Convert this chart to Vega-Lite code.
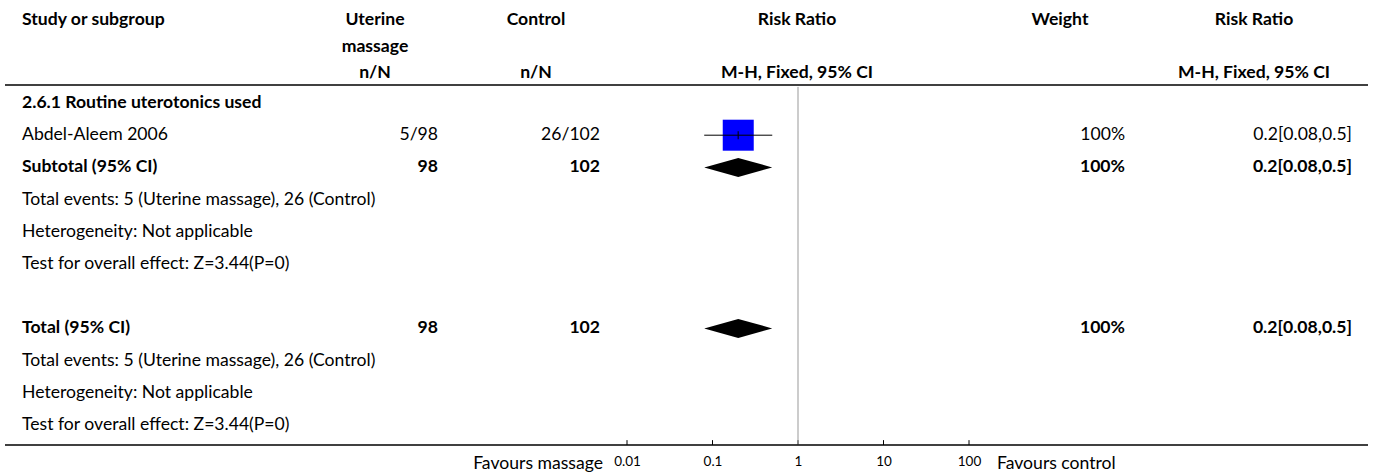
{
  "$schema": "https://vega.github.io/schema/vega-lite/v6.json",
  "width": 1373,
  "height": 475,
  "autosize": {"type": "none"},
  "padding": 0,
  "background": "white",
  "config": {
    "view": {"stroke": null},
    "font": "Lato",
    "text": {"font": "Lato", "fontSize": 17.6, "color": "#000000", "baseline": "middle"}
  },
  "datasets": {
    "header": [
      {"line": 0, "col": 0, "text": "Study or subgroup"},
      {"line": 0, "col": 1, "text": "Uterine"},
      {"line": 1, "col": 1, "text": "massage"},
      {"line": 2, "col": 1, "text": "n/N"},
      {"line": 0, "col": 2, "text": "Control"},
      {"line": 2, "col": 2, "text": "n/N"},
      {"line": 0, "col": 3, "text": "Risk Ratio"},
      {"line": 2, "col": 3, "text": "M-H, Fixed, 95% CI"},
      {"line": 0, "col": 4, "text": "Weight"},
      {"line": 0, "col": 5, "text": "Risk Ratio"},
      {"line": 2, "col": 5, "text": "M-H, Fixed, 95% CI"}
    ],
    "cells": [
      {"row": 0, "col": 0, "kind": "heading", "text": "2.6.1 Routine uterotonics used"},
      {"row": 1, "col": 0, "kind": "study", "text": "Abdel-Aleem 2006"},
      {"row": 1, "col": 1, "kind": "study", "text": "5/98"},
      {"row": 1, "col": 2, "kind": "study", "text": "26/102"},
      {"row": 1, "col": 3, "kind": "study", "text": "100%"},
      {"row": 1, "col": 4, "kind": "study", "text": "0.2[0.08,0.5]"},
      {"row": 2, "col": 0, "kind": "subtotal", "text": "Subtotal (95% CI)"},
      {"row": 2, "col": 1, "kind": "subtotal", "text": "98"},
      {"row": 2, "col": 2, "kind": "subtotal", "text": "102"},
      {"row": 2, "col": 3, "kind": "subtotal", "text": "100%"},
      {"row": 2, "col": 4, "kind": "subtotal", "text": "0.2[0.08,0.5]"},
      {"row": 3, "col": 0, "kind": "info", "text": "Total events: 5 (Uterine massage), 26 (Control)"},
      {"row": 4, "col": 0, "kind": "info", "text": "Heterogeneity: Not applicable"},
      {"row": 5, "col": 0, "kind": "info", "text": "Test for overall effect: Z=3.44(P=0)"},
      {"row": 7, "col": 0, "kind": "total", "text": "Total (95% CI)"},
      {"row": 7, "col": 1, "kind": "total", "text": "98"},
      {"row": 7, "col": 2, "kind": "total", "text": "102"},
      {"row": 7, "col": 3, "kind": "total", "text": "100%"},
      {"row": 7, "col": 4, "kind": "total", "text": "0.2[0.08,0.5]"},
      {"row": 8, "col": 0, "kind": "info", "text": "Total events: 5 (Uterine massage), 26 (Control)"},
      {"row": 9, "col": 0, "kind": "info", "text": "Heterogeneity: Not applicable"},
      {"row": 10, "col": 0, "kind": "info", "text": "Test for overall effect: Z=3.44(P=0)"}
    ],
    "studies": [
      {"row": 1, "study": "Abdel-Aleem 2006", "rr": 0.2, "lo": 0.08, "hi": 0.5, "weight": 100}
    ],
    "pooled": [
      {"row": 2, "label": "Subtotal (95% CI)", "rr": 0.2, "lo": 0.08, "hi": 0.5},
      {"row": 7, "label": "Total (95% CI)", "rr": 0.2, "lo": 0.08, "hi": 0.5}
    ],
    "ticks": [
      {"value": 0.01}, {"value": 0.1}, {"value": 1}, {"value": 10}, {"value": 100}
    ],
    "favours": [
      {"side": "left", "at": 0.01, "text": "Favours massage"},
      {"side": "right", "at": 100, "text": "Favours control"}
    ]
  },
  "resolve": {"scale": {"x": "independent", "y": "independent", "size": "independent"}, "axis": {"x": "independent", "y": "independent"}},
  "layer": [
    {
      "data": {"values": [{}]},
      "mark": {"type": "rule", "color": "#000000", "strokeWidth": 1.5},
      "encoding": {
        "x": {"datum": 0, "type": "quantitative", "scale": {"domain": [0, 1], "range": [5, 1368], "nice": false, "zero": false}, "axis": null},
        "x2": {"datum": 1},
        "y": {"datum": -0.56, "type": "quantitative", "scale": {"domain": [0, 10], "range": [103, 425], "nice": false, "zero": false}, "axis": null}
      }
    },
    {
      "data": {"values": [{}]},
      "mark": {"type": "rule", "color": "#000000", "strokeWidth": 1.5},
      "encoding": {
        "x": {"datum": 0, "type": "quantitative", "scale": {"domain": [0, 1], "range": [5, 1368], "nice": false, "zero": false}, "axis": null},
        "x2": {"datum": 1},
        "y": {"datum": 10.62, "type": "quantitative", "scale": {"domain": [0, 10], "range": [103, 425], "nice": false, "zero": false}, "axis": null}
      }
    },
    {
      "data": {"name": "ticks"},
      "mark": {"type": "rule", "color": "#000000", "strokeWidth": 1},
      "encoding": {
        "x": {
          "field": "value", "type": "quantitative",
          "scale": {"type": "log", "domain": [0.01, 100], "range": [627, 969], "nice": false},
          "axis": {
            "orient": "bottom", "offset": -30, "values": [0.01, 0.1, 1, 10, 100], "format": "~g",
            "domain": false, "grid": false, "ticks": false,
            "labelFontSize": 13.5, "labelColor": "#000000", "labelFont": "Lato", "labelPadding": 9,
            "labelFlush": false, "labelOverlap": false, "title": null
          }
        },
        "y": {"datum": 10.47, "type": "quantitative", "scale": {"domain": [0, 10], "range": [103, 425], "nice": false, "zero": false}, "axis": null},
        "y2": {"datum": 10.62}
      }
    },
    {
      "data": {"values": [{}]},
      "mark": {"type": "rule", "color": "#999999", "strokeWidth": 1},
      "encoding": {
        "x": {"datum": 1, "type": "quantitative", "scale": {"type": "log", "domain": [0.01, 100], "range": [627, 969], "nice": false}, "axis": null},
        "y": {"datum": -0.5, "type": "quantitative", "scale": {"domain": [0, 10], "range": [103, 425], "nice": false, "zero": false}, "axis": null},
        "y2": {"datum": 10.6}
      }
    },
    {
      "data": {"name": "studies"},
      "mark": {"type": "square", "color": "#0000ff", "opacity": 1, "filled": true},
      "encoding": {
        "x": {"field": "rr", "type": "quantitative", "scale": {"type": "log", "domain": [0.01, 100], "range": [627, 969], "nice": false}, "axis": null},
        "y": {"field": "row", "type": "quantitative", "scale": {"domain": [0, 10], "range": [103, 425], "nice": false, "zero": false}, "axis": null},
        "size": {"field": "weight", "type": "quantitative", "scale": {"domain": [0, 100], "range": [0, 961], "zero": true}, "legend": null}
      }
    },
    {
      "data": {"name": "studies"},
      "mark": {"type": "rule", "color": "#000000", "strokeWidth": 1},
      "encoding": {
        "x": {"field": "lo", "type": "quantitative", "scale": {"type": "log", "domain": [0.01, 100], "range": [627, 969], "nice": false}, "axis": null},
        "x2": {"field": "hi"},
        "y": {"field": "row", "type": "quantitative", "scale": {"domain": [0, 10], "range": [103, 425], "nice": false, "zero": false}, "axis": null}
      }
    },
    {
      "data": {"name": "studies"},
      "mark": {"type": "tick", "orient": "vertical", "color": "#000000", "size": 8, "thickness": 1.5},
      "encoding": {
        "x": {"field": "rr", "type": "quantitative", "scale": {"type": "log", "domain": [0.01, 100], "range": [627, 969], "nice": false}, "axis": null},
        "y": {"field": "row", "type": "quantitative", "scale": {"domain": [0, 10], "range": [103, 425], "nice": false, "zero": false}, "axis": null}
      }
    },
    {
      "data": {"name": "pooled"},
      "mark": {"type": "point", "shape": "M-1,0L0,-0.28L1,0L0,0.28Z", "size": 4624, "filled": true, "color": "#000000", "opacity": 1, "strokeWidth": 0},
      "encoding": {
        "x": {"field": "rr", "type": "quantitative", "scale": {"type": "log", "domain": [0.01, 100], "range": [627, 969], "nice": false}, "axis": null},
        "y": {"field": "row", "type": "quantitative", "scale": {"domain": [0, 10], "range": [103, 425], "nice": false, "zero": false}, "axis": null}
      }
    },
    {
      "data": {"name": "header"},
      "transform": [{"filter": "datum.col == 0"}],
      "mark": {"type": "text", "align": "left", "fontWeight": "bold"},
      "encoding": {
        "x": {"field": "col", "type": "quantitative", "scale": {"domain": [0, 1, 2, 3, 4, 5], "range": [22, 375, 536, 797, 1060, 1254], "nice": false, "zero": false}, "axis": null},
        "y": {"field": "line", "type": "quantitative", "scale": {"domain": [0, 2], "range": [20, 73], "nice": false, "zero": false}, "axis": null},
        "text": {"field": "text"}
      }
    },
    {
      "data": {"name": "header"},
      "transform": [{"filter": "datum.col > 0"}],
      "mark": {"type": "text", "align": "center", "fontWeight": "bold"},
      "encoding": {
        "x": {"field": "col", "type": "quantitative", "scale": {"domain": [0, 1, 2, 3, 4, 5], "range": [22, 375, 536, 797, 1060, 1254], "nice": false, "zero": false}, "axis": null},
        "y": {"field": "line", "type": "quantitative", "scale": {"domain": [0, 2], "range": [20, 73], "nice": false, "zero": false}, "axis": null},
        "text": {"field": "text"}
      }
    },
    {
      "data": {"name": "cells"},
      "transform": [{"filter": "datum.col == 0 && indexof(['heading','subtotal','total'], datum.kind) < 0"}],
      "mark": {"type": "text", "align": "left"},
      "encoding": {
        "x": {"field": "col", "type": "quantitative", "scale": {"domain": [0, 1, 2, 3, 4], "range": [22, 438, 600, 1125, 1352], "nice": false, "zero": false}, "axis": null},
        "y": {"field": "row", "type": "quantitative", "scale": {"domain": [0, 10], "range": [103, 425], "nice": false, "zero": false}, "axis": null},
        "text": {"field": "text"}
      }
    },
    {
      "data": {"name": "cells"},
      "transform": [{"filter": "datum.col == 0 && indexof(['heading','subtotal','total'], datum.kind) >= 0"}],
      "mark": {"type": "text", "align": "left", "fontWeight": "bold"},
      "encoding": {
        "x": {"field": "col", "type": "quantitative", "scale": {"domain": [0, 1, 2, 3, 4], "range": [22, 438, 600, 1125, 1352], "nice": false, "zero": false}, "axis": null},
        "y": {"field": "row", "type": "quantitative", "scale": {"domain": [0, 10], "range": [103, 425], "nice": false, "zero": false}, "axis": null},
        "text": {"field": "text"}
      }
    },
    {
      "data": {"name": "cells"},
      "transform": [{"filter": "datum.col > 0 && indexof(['heading','subtotal','total'], datum.kind) < 0"}],
      "mark": {"type": "text", "align": "right"},
      "encoding": {
        "x": {"field": "col", "type": "quantitative", "scale": {"domain": [0, 1, 2, 3, 4], "range": [22, 438, 600, 1125, 1352], "nice": false, "zero": false}, "axis": null},
        "y": {"field": "row", "type": "quantitative", "scale": {"domain": [0, 10], "range": [103, 425], "nice": false, "zero": false}, "axis": null},
        "text": {"field": "text"}
      }
    },
    {
      "data": {"name": "cells"},
      "transform": [{"filter": "datum.col > 0 && indexof(['heading','subtotal','total'], datum.kind) >= 0"}],
      "mark": {"type": "text", "align": "right", "fontWeight": "bold"},
      "encoding": {
        "x": {"field": "col", "type": "quantitative", "scale": {"domain": [0, 1, 2, 3, 4], "range": [22, 438, 600, 1125, 1352], "nice": false, "zero": false}, "axis": null},
        "y": {"field": "row", "type": "quantitative", "scale": {"domain": [0, 10], "range": [103, 425], "nice": false, "zero": false}, "axis": null},
        "text": {"field": "text"}
      }
    },
    {
      "data": {"name": "favours"},
      "transform": [{"filter": "datum.side == 'left'"}],
      "mark": {"type": "text", "align": "right", "dx": -24},
      "encoding": {
        "x": {"field": "at", "type": "quantitative", "scale": {"type": "log", "domain": [0.01, 100], "range": [627, 969], "nice": false}, "axis": null},
        "y": {"datum": 11.2, "type": "quantitative", "scale": {"domain": [0, 10], "range": [103, 425], "nice": false, "zero": false}, "axis": null},
        "text": {"field": "text"}
      }
    },
    {
      "data": {"name": "favours"},
      "transform": [{"filter": "datum.side == 'right'"}],
      "mark": {"type": "text", "align": "left", "dx": 28},
      "encoding": {
        "x": {"field": "at", "type": "quantitative", "scale": {"type": "log", "domain": [0.01, 100], "range": [627, 969], "nice": false}, "axis": null},
        "y": {"datum": 11.2, "type": "quantitative", "scale": {"domain": [0, 10], "range": [103, 425], "nice": false, "zero": false}, "axis": null},
        "text": {"field": "text"}
      }
    }
  ]
}
